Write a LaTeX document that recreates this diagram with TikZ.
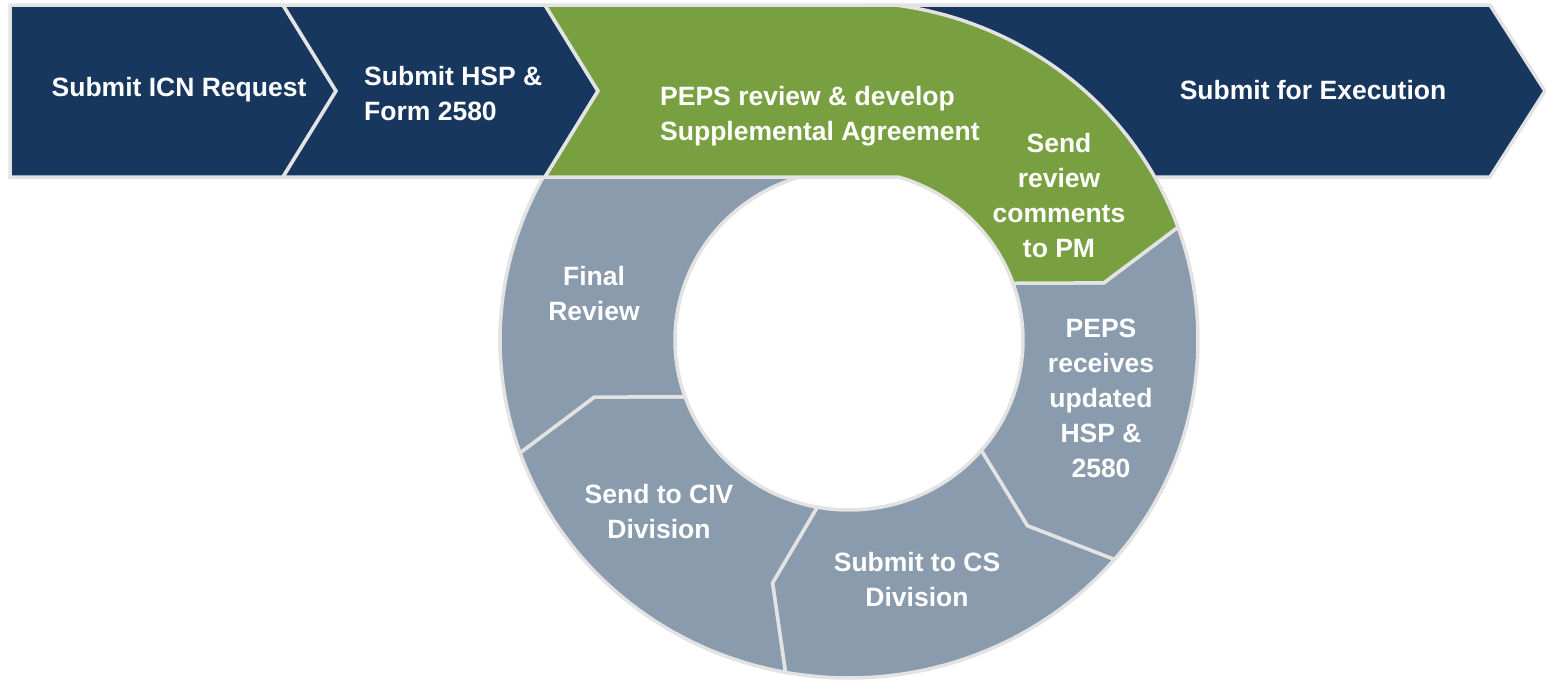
\documentclass[tikz,border=0pt]{standalone}
\usepackage{fontspec}
\setmainfont{Liberation Sans}
\usepackage{tikz}
\usetikzlibrary{positioning}
\definecolor{navyfill}{HTML}{17375E}
\definecolor{greenfill}{HTML}{79A040}
\definecolor{ringfill}{HTML}{8A9BAE}
\definecolor{edgegray}{HTML}{E3E3E3}
\tikzset{
x=1pt, y=-1pt, % one unit is one pixel of the picture, y grows downwards
shape line/.style={draw=edgegray, line width=3.5pt}, % the light grey outline of every piece
navy step/.style={shape line, fill=navyfill}, % dark blue chevrons of the strip
green step/.style={shape line, fill=greenfill}, % the current step
ring step/.style={shape line, fill=ringfill}, % pieces of the ring
ringout/.style={x radius=349, y radius=338}, % outer edge of the ring
ringin/.style={x radius=174, y radius=170}, % inner edge of the ring
steptext/.style={text=white, font=\bfseries\fontsize{26.5}{35}\selectfont, align=center, inner sep=0pt}, % white labels
}
\begin{document}
\begin{tikzpicture}
\useasboundingbox (0,0) rectangle (1546,686);
% ring, centred below the strip
\begin{scope}[shift={(849,340)}]
\coordinate (gtop) at (-82.2:349 and 338);
\coordinate (n1) at (-13:261.5 and 254);
\coordinate (i1) at (-19.5:174 and 170);
\draw[ring step] (-19.5:349 and 338) arc[ringout, start angle=-19.5, end angle=40.5] -- (47:261.5 and 254) -- (40.5:174 and 170) arc[ringin, start angle=40.5, end angle=-19.5] -- (n1) -- cycle;
\draw[ring step] (40.5:349 and 338) arc[ringout, start angle=40.5, end angle=100.5] -- (107:261.5 and 254) -- (100.5:174 and 170) arc[ringin, start angle=100.5, end angle=40.5] -- (47:261.5 and 254) -- cycle;
\draw[ring step] (100.5:349 and 338) arc[ringout, start angle=100.5, end angle=160.5] -- (167:261.5 and 254) -- (160.5:174 and 170) arc[ringin, start angle=160.5, end angle=100.5] -- (107:261.5 and 254) -- cycle;
\draw[ring step] (160.5:349 and 338) arc[ringout, start angle=160.5, end angle=256] -- (256:174 and 170) arc[ringin, start angle=256, end angle=160.5] -- (167:261.5 and 254) -- cycle;
\end{scope}
% strip of chevrons
\draw[navy step] (10,5) -- (283,5) -- (336,91) -- (283,177) -- (10,177) -- cycle;
\draw[navy step] (283,5) -- (545,5) -- (598,91) -- (545,177) -- (283,177) -- (336,91) -- cycle;
\draw[navy step] (870,5) -- (1490,5) -- (1545,91) -- (1490,177) -- (870,177) -- cycle;
\draw[green step] (545,5) -- (gtop) arc[ringout, start angle=-82.2, end angle=-19.5] -- (n1) -- (i1) arc[ringin, start angle=-19.5, end angle=-73.5] -- (545,177) -- (598,91) -- cycle;
% labels
\node[steptext] (icn) at (179,90) {Submit ICN Request};
\node[steptext, align=left, anchor=west] (hsp) at (364,94) {Submit HSP \&\\Form 2580};
\node[steptext, align=left, anchor=west] (peps) at (660,116) {PEPS review \& develop\\Supplemental Agreement};
\node[steptext] (send) at (1059,196) {Send\\review\\comments\\to PM};
\node[steptext] (exec) at (1313,90) {Submit for Execution};
\node[steptext] (final) at (594,294) {Final\\Review};
\node[steptext] (receive) at (1101,398) {PEPS\\receives\\updated\\HSP \&\\2580};
\node[steptext] (cs) at (917,580) {Submit to CS\\Division};
\node[steptext] (civ) at (659,512) {Send to CIV\\Division};
\end{tikzpicture}
\end{document}
